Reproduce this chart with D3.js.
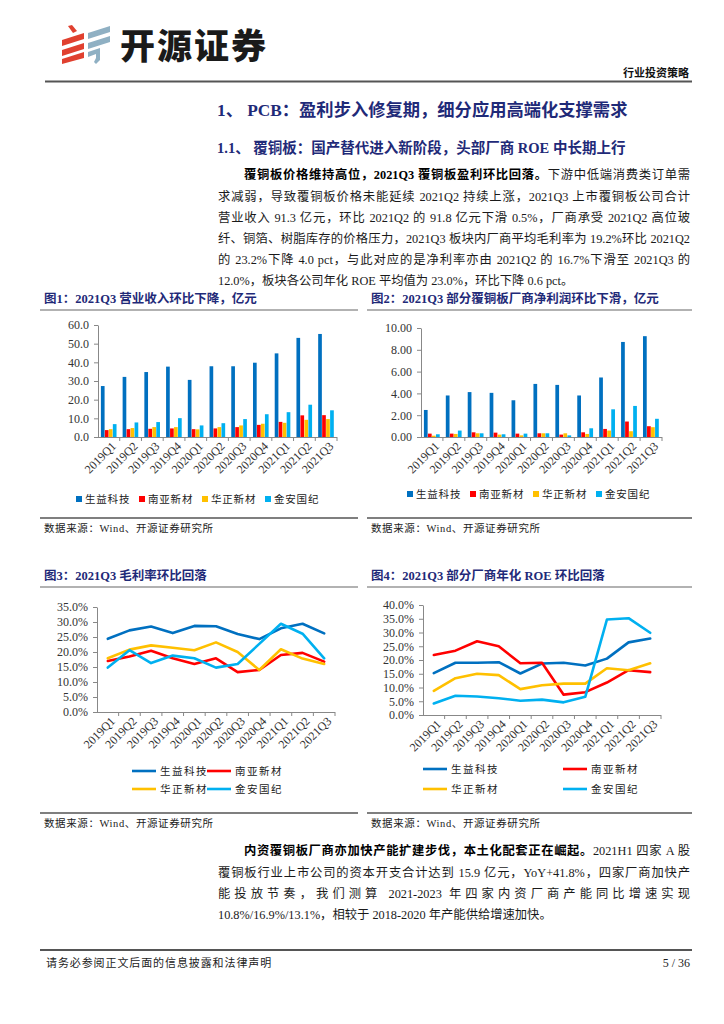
<!DOCTYPE html>
<html><head><meta charset="utf-8">
<script src="https://cdn.jsdelivr.net/npm/d3@7"></script>
<style>
body{margin:0;background:#fff;}
#page{position:relative;width:724px;height:1024px;overflow:hidden;background:#fff;}
svg{position:absolute;left:0;top:0;}
.para{position:absolute;font-family:"Liberation Serif","Noto Sans CJK SC",serif;font-size:12.3px;color:#1a1a1a;}
.para div{height:21.2px;line-height:21.2px;text-align:justify;text-align-last:justify;}
.para div.last{text-align-last:left;}
.para b{font-weight:bold;color:#000;}
</style></head>
<body><div id="page"></div>
<script>
// ---------- DATA ----------
const quarters = ["2019Q1","2019Q2","2019Q3","2019Q4","2020Q1","2020Q2","2020Q3","2020Q4","2021Q1","2021Q2","2021Q3"];
const companies = ["生益科技","南亚新材","华正新材","金安国纪"];
// Fig1 revenue (亿元)
const revShengyi  = [27.3,32.2,34.8,37.7,30.6,37.9,37.9,39.8,44.8,53.1,55.2];
const revNanya    = [3.7,4.2,4.4,4.6,4.2,4.6,5.3,6.5,8.1,11.6,11.7];
const revHuazheng = [4.2,4.8,5.3,5.3,4.1,5.3,6.2,7.1,7.6,9.2,9.6];
const revJinan    = [6.9,7.8,8.0,10.1,6.2,7.4,9.6,12.2,13.3,17.3,14.3];
// Fig2 net profit (亿元)
const npShengyi  = [2.48,3.81,4.12,4.05,3.37,4.87,4.78,3.81,5.46,8.72,9.25];
const npNanya    = [0.31,0.31,0.43,0.40,0.31,0.34,0.22,0.43,0.74,1.42,0.99];
const npHuazheng = [0.12,0.28,0.34,0.22,0.15,0.34,0.34,0.28,0.59,0.53,0.90];
const npJinan    = [0.25,0.59,0.34,0.25,0.31,0.34,0.15,0.80,2.54,2.85,1.67];
// Fig3 gross margin (%)
const gmShengyi  = [24.4,27.2,28.5,26.3,28.7,28.6,26.0,24.3,27.9,29.4,26.2];
const gmNanya    = [17.0,18.5,20.4,17.9,16.0,17.9,13.3,14.0,19.0,19.7,16.8];
const gmHuazheng = [17.9,20.8,22.2,21.4,20.6,23.2,20.0,14.0,20.9,17.8,16.0];
const gmJinan    = [14.8,20.6,16.3,18.8,17.9,14.8,16.0,22.7,29.4,26.1,17.9];
// Fig4 annualized ROE (%)
const roeShengyi  = [15.2,19.0,19.0,19.2,15.1,18.7,19.0,18.0,20.5,26.4,27.8];
const roeNanya    = [21.8,23.4,26.8,25.0,18.8,19.0,7.4,8.3,11.8,16.3,15.6];
const roeHuazheng = [8.8,13.4,15.0,14.5,9.4,10.8,11.4,11.4,17.0,16.3,18.8];
const roeJinan    = [4.2,7.0,6.7,6.1,5.2,5.6,4.6,6.6,34.7,35.2,29.9];
// tick values
const ticksFig1 = [0,10,20,30,40,50,60];
const ticksFig2 = [0,2,4,6,8,10];
const ticksFig3 = [0,5,10,15,20,25,30,35];
const ticksFig4 = [0,5,10,15,20,25,30,35,40];

const colors = ["#0070C0","#FF0000","#FFC000","#00B0F0"];
const serif = '"Liberation Serif","Noto Sans CJK SC",serif';
const cjk = '"Noto Sans CJK SC",sans-serif';
const navy = "#1F2A78";

const page = d3.select("#page");
const svg = page.append("svg").attr("width",724).attr("height",1024);

// ---------- HEADER ----------
const logo = svg.append("g");
const red = "#E0402F", grey = "#8FB0C3";
[[62,40,84,33,84,39,62,46],[62,50,84,43,84,49,62,56],[62,59,84,52,84,58,62,64]].forEach(p=>{
  logo.append("polygon").attr("points",p.join(",")).attr("fill",red);
});
logo.append("polygon").attr("points","68,26,72,25,77,31,73,33").attr("fill",red);
[[88,33,110,26,110,32,88,39],[88,43,110,36,110,42,88,49]].forEach(p=>{
  logo.append("polygon").attr("points",p.join(",")).attr("fill",grey);
});
logo.append("path").attr("d","M88,52 L100,48 L100,60 L96,64 L94,62 L96,58 L96,54 L88,57Z").attr("fill",grey);
svg.append("text").attr("x",120).attr("y",59).text("开源证券")
  .attr("font-family",cjk).attr("font-weight",900).attr("font-size",35).attr("letter-spacing",2).attr("fill","#1a1a1a");
svg.append("text").attr("x",689).attr("y",77).attr("text-anchor","end").text("行业投资策略")
  .attr("font-family",cjk).attr("font-weight",700).attr("font-size",11).attr("fill","#111");
svg.append("line").attr("x1",45).attr("x2",692).attr("y1",81.5).attr("y2",81.5).attr("stroke","#555").attr("stroke-width",2);

// ---------- HEADINGS ----------
svg.append("text").attr("x",217).attr("y",116).text("1、 PCB：盈利步入修复期，细分应用高端化支撑需求")
  .attr("font-family",serif).attr("font-weight",700).attr("font-size",17.3).attr("fill",navy);
svg.append("text").attr("x",217).attr("y",153).text("1.1、 覆铜板：国产替代进入新阶段，头部厂商 ROE 中长期上行")
  .attr("font-family",serif).attr("font-weight",700).attr("font-size",14.5).attr("fill",navy);

// ---------- PARAGRAPHS ----------
function para(left, top, width, lines){
  const d = page.append("div").attr("class","para").style("left",left+"px").style("top",top+"px").style("width",width+"px");
  lines.forEach((l,i)=>{
    const row = d.append("div");
    if(i===lines.length-1) row.attr("class","last");
    if(l.indent) row.style("padding-left",l.indent+"px");
    if(l.b) row.append("b").text(l.b);
    row.append("span").text(l.t);
  });
}
para(218,165.4,472,[
  {indent:26,b:"覆铜板价格维持高位，2021Q3 覆铜板盈利环比回落。",t:"下游中低端消费类订单需"},
  {t:"求减弱，导致覆铜板价格未能延续 2021Q2 持续上涨，2021Q3 上市覆铜板公司合计"},
  {t:"营业收入 91.3 亿元，环比 2021Q2 的 91.8 亿元下滑 0.5%，厂商承受 2021Q2 高位玻"},
  {t:"纤、铜箔、树脂库存的价格压力，2021Q3 板块内厂商平均毛利率为 19.2%环比 2021Q2"},
  {t:"的 23.2%下降 4.0 pct，与此对应的是净利率亦由 2021Q2 的 16.7%下滑至 2021Q3 的"},
  {t:"12.0%，板块各公司年化 ROE 平均值为 23.0%，环比下降 0.6 pct。"}
]);
para(218,841.4,472,[
  {indent:26,b:"内资覆铜板厂商亦加快产能扩建步伐，本土化配套正在崛起。",t:"2021H1 四家 A 股"},
  {t:"覆铜板行业上市公司的资本开支合计达到 15.9 亿元，YoY+41.8%，四家厂商加快产"},
  {t:"能投放节奏，我们测算 2021-2023 年四家内资厂商产能同比增速实现"},
  {t:"10.8%/16.9%/13.1%，相较于 2018-2020 年产能供给增速加快。"}
]);

// ---------- FIGURE FRAMES ----------
function frame(x, x2, titleY, title, bottomY){
  svg.append("text").attr("x",x+4).attr("y",titleY+4.5).text(title)
    .attr("font-family",serif).attr("font-weight",700).attr("font-size",12.5).attr("fill",navy);
  svg.append("line").attr("x1",x).attr("x2",x2).attr("y1",titleY+12).attr("y2",titleY+12).attr("stroke","#999").attr("stroke-width",1.5);
  svg.append("line").attr("x1",x).attr("x2",x2).attr("y1",bottomY).attr("y2",bottomY).attr("stroke","#555").attr("stroke-width",1.5);
  svg.append("text").attr("x",x+4).attr("y",bottomY+14).text("数据来源：Wind、开源证券研究所")
    .attr("font-family",serif).attr("font-size",10.5).attr("letter-spacing",0.6).attr("fill","#222");
}
frame(40,358,298,"图1：2021Q3 营业收入环比下降，亿元",518);
frame(367,692,298,"图2：2021Q3 部分覆铜板厂商净利润环比下滑，亿元",518);
frame(40,358,575,"图3：2021Q3 毛利率环比回落",813);
frame(367,692,575,"图4：2021Q3 部分厂商年化 ROE 环比回落",813);

// ---------- CHART HELPERS ----------
function axes(g, x, y, c, ticks, fmt){
  const yAx = d3.axisLeft(y).tickValues(ticks).tickFormat(fmt).tickSize(4).tickSizeOuter(0);
  const ya = g.append("g").attr("transform",`translate(${c.x0},0)`).call(yAx);
  ya.select(".domain").attr("stroke","#888");
  ya.selectAll(".tick line").attr("stroke","#888");
  ya.selectAll("text").attr("font-family",serif).attr("font-size",12).attr("fill","#333").attr("dx",-2);
  g.append("line").attr("x1",c.x0).attr("x2",c.x1).attr("y1",c.y0+0.5).attr("y2",c.y0+0.5).attr("stroke","#888");
  const bw = x.step();
  g.selectAll(".bt").data(quarters).enter().append("line")
    .attr("x1",d=>x(d)+bw).attr("x2",d=>x(d)+bw).attr("y1",c.y0).attr("y2",c.y0+4).attr("stroke","#888");
  g.selectAll(".xl").data(quarters).enter().append("text")
    .attr("transform",d=>`translate(${x(d)+bw/2+8},${c.y0+10}) rotate(-45)`)
    .attr("text-anchor","end").attr("font-family",serif).attr("font-size",12).attr("fill","#333").text(d=>d);
}

function barChart(c){
  const g = svg.append("g");
  const x = d3.scaleBand().domain(quarters).range([c.x0,c.x1]).padding(0);
  const y = d3.scaleLinear().domain([0,c.max]).range([c.y0,c.y1]);
  const xi = d3.scaleBand().domain(companies).range([2.9,x.bandwidth()-2.9]).padding(0);
  c.series.forEach((s,k)=>{
    g.selectAll(null).data(s).enter().append("rect")
      .attr("x",(d,i)=>x(quarters[i])+xi(companies[k]))
      .attr("width",xi.bandwidth()-0.3)
      .attr("y",d=>y(d)).attr("height",d=>c.y0-y(d))
      .attr("fill",colors[k]);
  });
  axes(g,x,y,c,c.ticks,d3.format(c.fmt));
  companies.forEach((name,k)=>{
    const lx = c.legX[k];
    g.append("rect").attr("x",lx).attr("y",c.legY-3).attr("width",6).attr("height",6).attr("fill",colors[k]);
    g.append("text").attr("x",lx+9).attr("y",c.legY+4).text(name)
      .attr("font-family",cjk).attr("font-size",10.5).attr("letter-spacing",0.8).attr("fill","#222");
  });
}

function lineChart(c){
  const g = svg.append("g");
  const x = d3.scaleBand().domain(quarters).range([c.x0,c.x1]).padding(0);
  const y = d3.scaleLinear().domain([0,c.max]).range([c.y0,c.y1]);
  axes(g,x,y,c,c.ticks,d=>d3.format(".1f")(d)+"%");
  const line = d3.line().x((d,i)=>x(quarters[i])+x.bandwidth()/2).y(d=>y(d));
  c.series.forEach((s,k)=>{
    g.append("path").datum(s).attr("d",line).attr("fill","none").attr("stroke",colors[k])
      .attr("stroke-width",2.6).attr("stroke-linejoin","round").attr("stroke-linecap","round");
  });
  companies.forEach((name,k)=>{
    const lx = c.legX[k%2], ly = c.legY[Math.floor(k/2)];
    g.append("line").attr("x1",lx).attr("x2",lx+24).attr("y1",ly).attr("y2",ly).attr("stroke",colors[k]).attr("stroke-width",2.6);
    g.append("text").attr("x",lx+28).attr("y",ly+4).text(name)
      .attr("font-family",cjk).attr("font-size",10.5).attr("letter-spacing",1.5).attr("fill","#222");
  });
}

barChart({x0:98,x1:337,y0:437,y1:325,max:60,ticks:ticksFig1,fmt:".1f",
  series:[revShengyi,revNanya,revHuazheng,revJinan],legY:499,legX:[76,139,202,265]});
barChart({x0:421,x1:662,y0:437,y1:328,max:10,ticks:ticksFig2,fmt:".2f",
  series:[npShengyi,npNanya,npHuazheng,npJinan],legY:494,legX:[407,470,533,596]});
lineChart({x0:97,x1:335,y0:712,y1:607,max:35,ticks:ticksFig3,
  series:[gmShengyi,gmNanya,gmHuazheng,gmJinan],legX:[132,207],legY:[771,789]});
lineChart({x0:423,x1:661,y0:715,y1:605,max:40,ticks:ticksFig4,
  series:[roeShengyi,roeNanya,roeHuazheng,roeJinan],legX:[423,563],legY:[769,789]});

// ---------- FOOTER ----------
svg.append("line").attr("x1",40).attr("x2",692).attr("y1",950).attr("y2",950).attr("stroke","#555").attr("stroke-width",2);
svg.append("text").attr("x",46).attr("y",967).text("请务必参阅正文后面的信息披露和法律声明")
  .attr("font-family",cjk).attr("font-size",11).attr("letter-spacing",0.9).attr("fill","#222");
svg.append("text").attr("x",690).attr("y",967).attr("text-anchor","end").text("5 / 36")
  .attr("font-family",serif).attr("font-size",12).attr("fill","#222");
</script>
</body></html>
